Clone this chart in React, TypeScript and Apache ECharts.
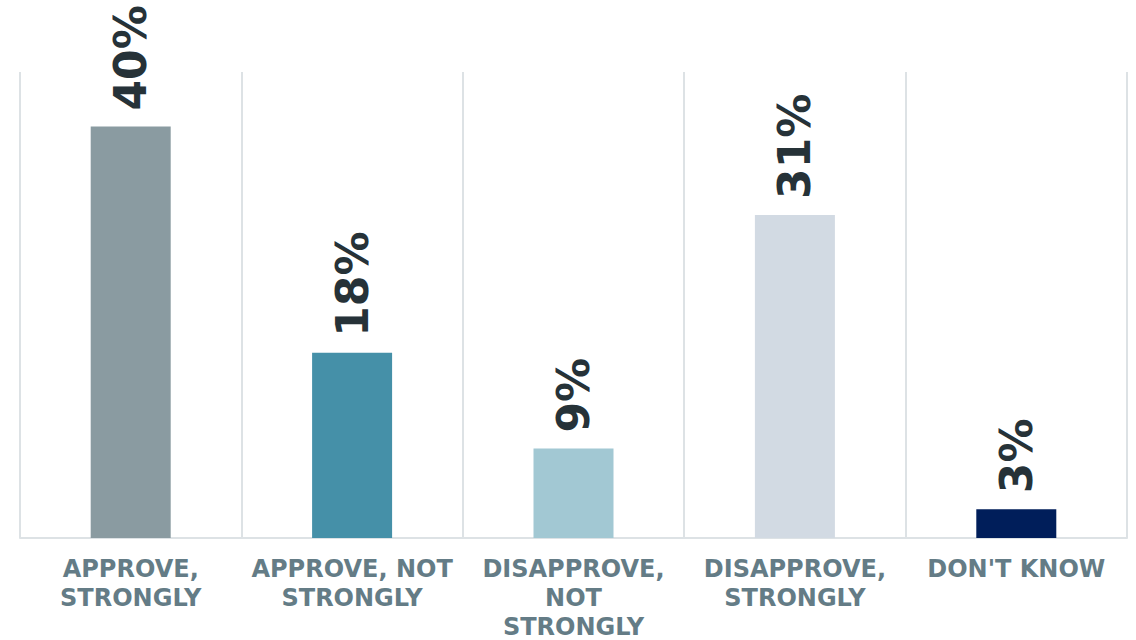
import React, { useEffect, useRef } from "react";
import * as echarts from "echarts";

const categories = [
  "APPROVE,\nSTRONGLY",
  "APPROVE, NOT\nSTRONGLY",
  "DISAPPROVE,\nNOT\nSTRONGLY",
  "DISAPPROVE,\nSTRONGLY",
  "DON'T KNOW",
];
const values = [40, 18, 8.7, 31.4, 2.8];
const labels = ["40%", "18%", "9%", "31%", "3%"];
const colors = ["#8A9BA1", "#4590A8", "#A2C8D3", "#D2DAE3", "#001E5A"];

export default function App() {
  const ref = useRef<HTMLDivElement>(null);
  useEffect(() => {
    if (!ref.current) return;
    const chart = echarts.init(ref.current, null, { renderer: "svg" });
    chart.setOption({
      animation: false,
      backgroundColor: "#ffffff",
      grid: {
        left: 20,
        right: 9,
        top: 72,
        bottom: 102,
        containLabel: false,
        outerBoundsMode: "none",
      },
      xAxis: {
        type: "category",
        data: categories,
        boundaryGap: true,
        axisLine: { show: true, lineStyle: { color: "#DDE2E5", width: 2 } },
        axisTick: { show: false },
        splitLine: { show: true, lineStyle: { color: "#DDE2E5", width: 2 } },
        axisLabel: {
          interval: 0,
          margin: 16,
          color: "#647C86",
          fontFamily: "DejaVu Sans",
          fontWeight: "bold",
          fontSize: 24,
          lineHeight: 29,
          align: "center",
        },
      },
      yAxis: {
        type: "value",
        min: 0,
        max: 45.3,
        show: false,
        splitLine: { show: false },
      },
      series: [
        {
          type: "bar",
          barWidth: 80,
          data: values.map((v, i) => ({ value: v, itemStyle: { color: colors[i] } })),
          label: {
            show: true,
            position: "top",
            rotate: 90,
            align: "left",
            verticalAlign: "middle",
            distance: 16,
            formatter: (p: any) => labels[p.dataIndex],
            color: "#263238",
            fontFamily: "DejaVu Sans",
            fontWeight: "bold",
            fontSize: 44,
          },
        },
      ],
    });
    return () => chart.dispose();
  }, []);
  return (
    <div
      ref={ref}
      style={{ position: "fixed", left: 0, top: 0, width: 1136, height: 640 }}
    />
  );
}
